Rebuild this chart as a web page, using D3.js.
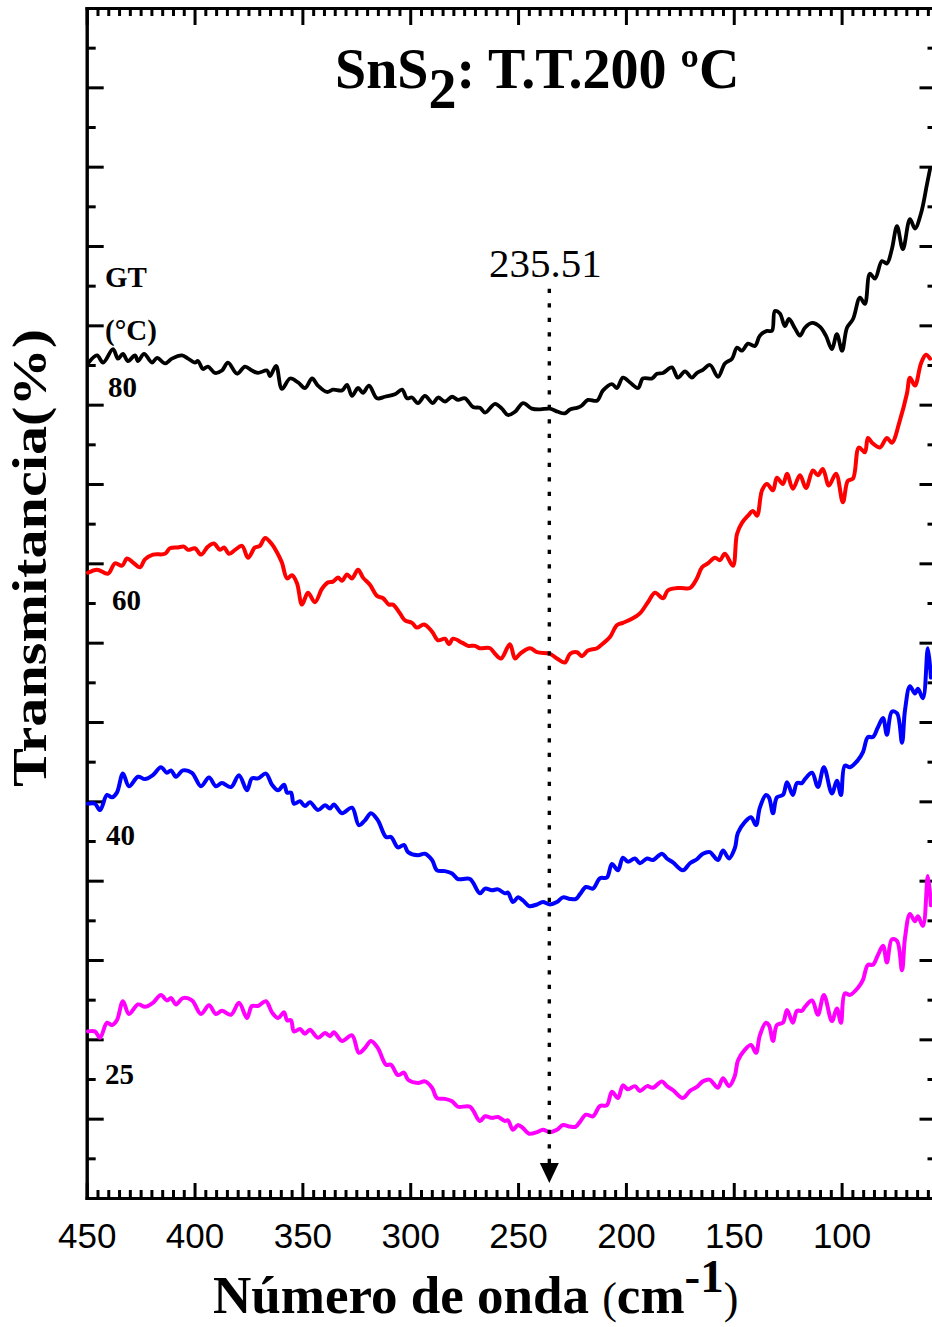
<!DOCTYPE html>
<html>
<head>
<meta charset="utf-8">
<script src="https://cdn.jsdelivr.net/npm/d3@7"></script>
<style>
  html, body { margin: 0; padding: 0; background: #fff; }
  svg { display: block; }
  .serif { font-family: "Liberation Serif", "Times New Roman", serif; }
  .sans { font-family: "Liberation Sans", Arial, sans-serif; }
</style>
</head>
<body>
<svg id="chart" width="932" height="1327"></svg>
<script>
// Far-IR spectra of SnS2 (T.T. 200 °C) at several growth temperatures (GT).
// Wavenumber in cm^-1, transmittance in arbitrary offset units.

const wnBlack = [449.4,445.2,442.4,437.8,435.5,433.2,430.9,427.6,426.2,423.4,
  419.7,417.4,413.7,410.5,405.8,403.0,399.8,398.4,396.1,393.8,
  390.5,387.3,384.5,380.3,376.6,373.4,370.6,366.4,365.0,362.2,
  359.5,355.7,352.0,348.8,345.5,342.8,338.6,335.8,331.6,329.3,
  327.0,324.2,321.9,319.1,315.4,311.7,307.1,303.8,301.5,299.2,
  296.4,293.2,289.5,287.1,283.9,280.6,277.9,274.6,270.9,267.7,
  265.3,260.7,257.5,254.7,251.4,247.7,243.6,239.8,235.2,231.5,
  228.3,225.9,222.7,220.4,217.6,213.4,210.6,206.5,204.2,201.4,
  198.1,194.4,192.1,187.9,185.6,182.8,178.7,175.9,172.6,169.4,
  167.1,164.3,161.0,157.3,154.1,150.8,148.5,146.2,143.4,140.2,
  137.9,134.6,132.3,130.9,128.6,126.3,124.4,121.6,119.3,117.0,
  113.7,110.0,107.3,104.5,102.2,99.8,97.5,94.7,91.5,89.2,
  86.9,84.5,81.3,79.0,76.7,74.3,71.6,68.3,66.0,63.2,
  60.4,59.0];
const tBlack = [10.52,10.62,10.53,10.70,10.58,10.64,10.55,10.62,10.55,10.64,
  10.53,10.59,10.52,10.58,10.62,10.58,10.53,10.55,10.45,10.48,
  10.40,10.43,10.53,10.39,10.48,10.43,10.40,10.43,10.36,10.49,
  10.20,10.33,10.28,10.21,10.33,10.24,10.16,10.19,10.18,10.25,
  10.11,10.21,10.15,10.24,10.08,10.10,10.13,10.19,10.08,10.09,
  10.02,10.11,10.02,10.09,10.04,10.10,10.06,10.08,9.97,9.96,
  9.90,10.01,9.95,9.87,9.91,10.02,9.95,9.94,9.95,9.91,
  9.89,9.94,9.96,9.99,10.06,10.05,10.18,10.26,10.21,10.34,
  10.28,10.21,10.33,10.33,10.39,10.40,10.47,10.34,10.42,10.34,
  10.40,10.44,10.50,10.35,10.52,10.58,10.72,10.68,10.77,10.74,
  10.87,10.93,10.93,11.18,11.15,10.99,11.08,10.96,10.87,10.97,
  11.03,10.98,10.87,10.70,10.89,10.68,10.97,11.08,11.35,11.27,
  11.65,11.59,11.81,11.78,11.96,12.25,11.96,12.34,12.22,12.41,
  12.78,12.97];

const wnRed = [449.4,445.2,440.1,436.9,433.6,431.3,428.5,425.3,423.0,419.3,
  413.7,411.4,407.7,404.9,403.0,399.8,397.0,393.8,391.0,388.2,
  386.3,384.0,381.2,378.0,375.2,372.0,369.7,367.3,364.1,361.8,
  359.5,357.1,354.8,352.5,350.2,347.4,344.2,340.9,338.1,335.8,
  333.5,331.6,329.3,327.0,324.2,321.9,318.7,315.4,312.6,309.9,
  308.0,304.8,302.4,299.2,296.9,293.6,289.9,287.1,283.9,282.0,
  280.2,276.0,273.2,270.0,267.7,263.0,260.7,257.9,253.8,251.4,
  249.1,244.5,241.2,235.2,232.0,228.3,225.9,222.7,220.4,217.6,
  213.4,210.6,207.4,204.2,201.4,197.2,193.5,189.8,186.5,182.8,
  180.5,174.9,170.3,167.1,164.7,162.0,158.7,156.4,154.1,150.4,
  148.5,146.2,143.4,141.1,139.2,136.9,134.6,131.8,130.0,127.2,
  125.3,122.6,119.3,116.5,113.3,111.0,108.7,105.9,102.6,99.4,
  97.1,94.7,92.0,89.2,87.8,85.5,82.2,79.0,76.7,73.0,
  69.7,68.3,66.0,63.2,60.9,59.0];
const tRed = [7.88,7.92,7.87,8.00,7.97,8.06,8.01,7.95,8.05,8.11,
  8.12,8.19,8.20,8.21,8.17,8.19,8.11,8.21,8.25,8.17,
  8.20,8.12,8.17,8.22,8.07,8.20,8.22,8.32,8.24,8.14,
  8.01,7.81,7.85,7.75,7.48,7.63,7.51,7.68,7.76,7.77,
  7.82,7.78,7.86,7.81,7.92,7.82,7.73,7.59,7.56,7.48,
  7.48,7.37,7.28,7.25,7.19,7.23,7.14,7.03,7.05,6.98,
  7.05,7.00,6.96,6.96,6.93,6.93,6.86,6.80,6.98,6.80,
  6.86,6.93,6.88,6.86,6.80,6.75,6.86,6.88,6.83,6.90,
  6.93,6.99,7.07,7.22,7.25,7.30,7.37,7.51,7.63,7.56,
  7.66,7.69,7.69,7.81,7.95,8.00,8.07,8.04,8.12,7.97,
  8.37,8.51,8.60,8.66,8.60,8.92,9.00,8.92,9.08,9.00,
  9.13,8.94,9.11,8.95,9.17,9.11,9.19,8.98,9.13,8.77,
  9.04,9.07,9.46,9.40,9.58,9.51,9.46,9.58,9.52,9.80,
  10.14,10.34,10.24,10.52,10.63,10.58];

// 40 °C and 25 °C were sampled on the same wavenumber grid
const wnLow = [449.4,446.2,443.8,440.6,438.3,436.0,433.2,430.4,426.2,423.0,
  419.3,415.6,412.8,410.9,408.6,405.4,401.2,397.0,393.3,390.1,
  387.3,383.1,379.4,375.7,373.4,370.6,366.9,364.1,361.3,358.5,
  357.1,355.3,353.9,351.1,348.8,346.5,342.8,339.5,337.2,335.4,
  331.6,327.0,323.8,321.0,318.2,315.0,311.2,308.9,305.7,302.9,
  301.0,296.4,293.2,289.9,287.6,283.9,280.6,277.9,272.3,267.7,
  265.3,262.1,259.3,256.1,254.7,252.4,250.0,247.7,244.9,241.2,
  238.5,235.2,232.0,229.2,225.9,223.2,221.3,218.5,215.3,212.0,
  208.8,206.5,203.7,201.4,199.1,195.8,193.5,190.2,187.5,183.3,
  181.0,178.2,173.6,170.3,167.1,164.3,161.0,159.6,157.3,155.0,
  152.2,149.5,148.1,144.8,142.0,139.7,137.9,135.1,133.7,131.8,
  130.0,127.2,125.3,122.6,120.7,118.4,117.0,113.7,111.0,108.2,
  104.5,102.2,100.3,98.5,96.1,92.4,90.1,87.8,85.5,83.2,
  80.8,79.0,76.7,74.3,72.0,70.6,68.3,66.0,64.6,62.3,60.0,58.6];
const tBlue = [4.97,4.97,4.89,5.08,5.05,5.11,5.35,5.19,5.31,5.28,
  5.33,5.43,5.36,5.39,5.31,5.39,5.36,5.19,5.30,5.19,
  5.23,5.18,5.33,5.14,5.29,5.29,5.35,5.21,5.14,5.21,
  5.11,5.11,4.97,5.00,4.94,4.99,4.89,4.95,4.91,4.96,
  4.85,4.92,4.70,4.76,4.85,4.76,4.55,4.55,4.42,4.45,
  4.36,4.32,4.34,4.26,4.13,4.12,4.09,4.02,4.02,3.84,
  3.90,3.88,3.89,3.84,3.85,3.73,3.79,3.75,3.68,3.70,
  3.73,3.70,3.73,3.79,3.77,3.77,3.83,3.92,3.90,4.03,
  4.04,4.21,4.13,4.29,4.24,4.28,4.22,4.28,4.26,4.34,
  4.28,4.23,4.13,4.22,4.27,4.34,4.36,4.32,4.26,4.38,
  4.28,4.41,4.60,4.74,4.80,4.70,4.92,5.08,5.05,4.85,
  5.05,5.08,5.24,5.08,5.23,5.23,5.28,5.36,5.18,5.43,
  5.10,5.26,5.08,5.45,5.43,5.52,5.62,5.81,5.81,5.93,
  6.05,5.84,6.13,6.11,5.74,6.15,6.45,6.36,6.42,6.30,6.93,6.56];
const tMagenta = [2.10,2.10,2.02,2.21,2.18,2.24,2.48,2.32,2.44,2.41,
  2.46,2.56,2.49,2.52,2.44,2.52,2.49,2.32,2.43,2.32,
  2.36,2.31,2.46,2.27,2.42,2.42,2.48,2.34,2.27,2.34,
  2.24,2.24,2.10,2.13,2.07,2.12,2.02,2.08,2.04,2.09,
  1.98,2.05,1.83,1.89,1.98,1.89,1.68,1.68,1.55,1.58,
  1.49,1.45,1.47,1.39,1.26,1.25,1.22,1.15,1.15,0.97,
  1.03,1.01,1.02,0.97,0.98,0.86,0.92,0.88,0.81,0.83,
  0.86,0.83,0.86,0.92,0.90,0.90,0.96,1.05,1.03,1.16,
  1.17,1.34,1.26,1.42,1.37,1.41,1.35,1.41,1.39,1.47,
  1.41,1.36,1.26,1.35,1.40,1.47,1.49,1.45,1.39,1.51,
  1.41,1.54,1.73,1.87,1.93,1.83,2.05,2.21,2.18,1.98,
  2.18,2.21,2.37,2.21,2.36,2.36,2.41,2.49,2.31,2.56,
  2.23,2.39,2.21,2.58,2.56,2.65,2.75,2.94,2.94,3.06,
  3.18,2.97,3.26,3.24,2.87,3.28,3.58,3.49,3.55,3.43,4.06,3.69];

const seriesLabels = ["80", "60", "40", "25"];
const seriesColors = ["#000000", "#ff0000", "#0000ff", "#ff00ff"];
const xTickValues = [450, 400, 350, 300, 250, 200, 150, 100];

// band marker
const peakWn = 235.51;
const markerTop = 11.46;
const markerBase = 0.44;
const markerTip = 0.19;

const svg = d3.select("#chart");

const x = d3.scaleLinear().domain([450, 56]).range([86.7, 936.5]);
const y = d3.scaleLinear().domain([0, 15]).range([1198, 8]);

const xMinor = d3.range(55, 450, 5).filter(v => v % 50 !== 0);
const yMajor = d3.range(1, 15);
const yMinor = d3.range(0.5, 15, 1);

function styleAxis(g) {
  g.select(".domain").attr("stroke", "#000").attr("stroke-width", 3).attr("stroke-linecap", "square");
  g.selectAll(".tick line").attr("stroke", "#000").attr("stroke-width", 3);
}

// bottom axis (labelled)
svg.append("g").attr("transform", `translate(0,${y(0)})`)
  .call(d3.axisBottom(x).tickValues(xMinor).tickSizeInner(-8).tickSizeOuter(0).tickFormat(""))
  .call(styleAxis);
const bottom = svg.append("g").attr("transform", `translate(0,${y(0)})`)
  .call(d3.axisBottom(x).tickValues(xTickValues).tickSizeInner(-15).tickSizeOuter(0)
    .tickPadding(25).tickFormat(d3.format("d")))
  .call(styleAxis);
bottom.selectAll(".tick text").attr("font-size", 35).attr("fill", "#000")
  .style("font-family", '"Liberation Sans", Arial, sans-serif');

// top axis
svg.append("g").attr("transform", `translate(0,${y(15)})`)
  .call(d3.axisTop(x).tickValues(xMinor).tickSizeInner(-8).tickSizeOuter(0).tickFormat(""))
  .call(styleAxis);
svg.append("g").attr("transform", `translate(0,${y(15)})`)
  .call(d3.axisTop(x).tickValues(xTickValues).tickSizeInner(-17).tickSizeOuter(0).tickFormat(""))
  .call(styleAxis);

// left axis
svg.append("g").attr("transform", `translate(${x(450)},0)`)
  .call(d3.axisLeft(y).tickValues(yMinor).tickSizeInner(-9).tickSizeOuter(0).tickFormat(""))
  .call(styleAxis);
svg.append("g").attr("transform", `translate(${x(450)},0)`)
  .call(d3.axisLeft(y).tickValues(yMajor).tickSizeInner(-17).tickSizeOuter(0).tickFormat(""))
  .call(styleAxis);

// right axis
svg.append("g").attr("transform", `translate(${x(56)},0)`)
  .call(d3.axisRight(y).tickValues(yMinor).tickSizeInner(-9).tickSizeOuter(0).tickFormat(""))
  .call(styleAxis);
svg.append("g").attr("transform", `translate(${x(56)},0)`)
  .call(d3.axisRight(y).tickValues(yMajor).tickSizeInner(-17).tickSizeOuter(0).tickFormat(""))
  .call(styleAxis);

// spectra
const line = d3.line().x(d => x(d[0])).y(d => y(d[1])).curve(d3.curveCatmullRom.alpha(0.5));
const spectra = [
  d3.zip(wnBlack, tBlack),
  d3.zip(wnRed, tRed),
  d3.zip(wnLow, tBlue),
  d3.zip(wnLow, tMagenta)
];
svg.append("g").selectAll("path").data(spectra).join("path")
  .attr("d", line)
  .attr("fill", "none")
  .attr("stroke", (d, i) => seriesColors[i])
  .attr("stroke-width", (d, i) => i === 0 ? 3.8 : 4)
  .attr("stroke-linejoin", "round")
  .attr("stroke-linecap", "round");

// band position marker
const mx = x(peakWn);
svg.append("line")
  .attr("x1", mx).attr("x2", mx)
  .attr("y1", y(markerTop)).attr("y2", y(markerBase))
  .attr("stroke", "#000").attr("stroke-width", 3.4)
  .attr("stroke-dasharray", "4.2,10.3");
svg.append("path")
  .attr("d", `M${mx - 9.5},${y(markerBase)} L${mx + 9.5},${y(markerBase)} L${mx},${y(markerTip)} Z`)
  .attr("fill", "#000");
svg.append("text").attr("class", "serif")
  .attr("x", mx - 4).attr("y", 277)
  .attr("text-anchor", "middle").attr("font-size", 41)
  .text(peakWn.toFixed(2));

// title
const title = svg.append("text").attr("class", "serif")
  .attr("x", 335).attr("y", 88)
  .attr("font-size", 56).attr("font-weight", "bold");
title.append("tspan").text("SnS");
title.append("tspan").attr("dy", 20).text("2");
title.append("tspan").attr("dy", -20).text(": T.T.200 ºC");

// growth temperature labels
const lab = svg.append("g").attr("class", "serif").attr("font-weight", "bold").attr("font-size", 29);
lab.append("text").attr("x", 105).attr("y", 287).text("GT");
lab.append("text").attr("x", 105).attr("y", 340).text("(°C)");
const labelPos = [[108, 397], [112, 610], [106, 845], [105, 1084]];
lab.selectAll("text.gt").data(seriesLabels).join("text").attr("class", "gt")
  .attr("x", (d, i) => labelPos[i][0]).attr("y", (d, i) => labelPos[i][1])
  .text(d => d);

// axis titles
const xt = svg.append("text").attr("class", "serif")
  .attr("x", 213).attr("y", 1313)
  .attr("font-size", 53).attr("font-weight", "bold");
xt.append("tspan").text("Número de onda ");
xt.append("tspan").attr("font-weight", "normal").attr("font-size", 44).text("(");
xt.append("tspan").text("cm");
xt.append("tspan").attr("dy", -21).attr("font-size", 47).text("-1");
xt.append("tspan").attr("dy", 21).attr("font-weight", "normal").attr("font-size", 44).text(")");

svg.append("text").attr("class", "serif")
  .attr("transform", "translate(46,558) rotate(-90)")
  .attr("text-anchor", "middle")
  .attr("font-size", 48).attr("font-weight", "bold")
  .attr("textLength", 458).attr("lengthAdjust", "spacingAndGlyphs")
  .text("Transmitancia(%)");
</script>
</body>
</html>
